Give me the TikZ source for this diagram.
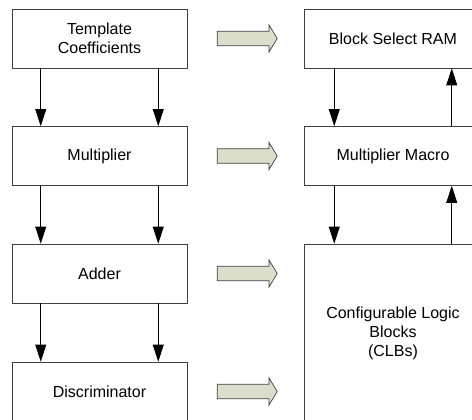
\documentclass[tikz,border=0pt]{standalone}
\usepackage{fontspec}
\setmainfont{Liberation Sans}
\usetikzlibrary{arrows.meta,shapes.arrows}
\definecolor{sage}{RGB}{218,222,203}
\tikzset{block/.style={draw=black!75,line width=0.8pt,minimum width=175pt,minimum height=59pt,align=center,inner sep=0pt,font=\fontsize{16}{19}\selectfont}}
\tikzset{conn/.style={-{Triangle[length=17pt,width=11pt]},line width=0.8pt}}
\tikzset{maps/.style={single arrow,draw=black!75,fill=sage,line width=0.7pt,inner sep=0pt,text height=6.85pt,text depth=6.85pt,minimum height=60pt,single arrow head extend=6.5pt,single arrow tip angle=118}}

\begin{document}
\begin{tikzpicture}[x=1pt,y=-1pt]
		\useasboundingbox (0,0) rectangle (472,420);
		\clip (0,0) rectangle (472,420);
		% algorithm side
		\node[block] (tmpl) at (99.5,38.5) {Template\\Coefficients};
		\node[block] (mult) at (99.5,156) {Multiplier};
		\node[block] (add) at (99.5,273.5) {Adder};
		\node[block] (disc) at (99.5,391.5) {Discriminator};
		% FPGA side
		\node[block,minimum width=178pt] (bram) at (393,38.5) {Block Select RAM};
		\node[block,minimum width=178pt] (mmac) at (393,156) {Multiplier Macro};
		\node[block,minimum width=178pt,minimum height=178pt] (clb) at (393,333) {Configurable Logic\\Blocks\\(CLBs)};
		\foreach \a/\b in {tmpl/mult,mult/add,add/disc}
		{
			\draw[conn] ([xshift=-58.75pt]\a.south) -- ([xshift=-58.75pt]\b.north);
			\draw[conn] ([xshift=58.75pt]\a.south) -- ([xshift=58.75pt]\b.north);
		}
		\foreach \a/\b in {bram/mmac,mmac/clb}
		{
			\draw[conn] ([xshift=-58.75pt]\a.south) -- ([xshift=-58.75pt]\b.north);
			\draw[conn] ([xshift=58.75pt]\b.north) -- ([xshift=58.75pt]\a.south);
		}
		% mapping arrows
		\foreach \n/\y in {1/38.5,2/156,3/273.5,4/391.5}
			\node[maps] (map\n) at (245,\y) {};
\end{tikzpicture}
\end{document}
